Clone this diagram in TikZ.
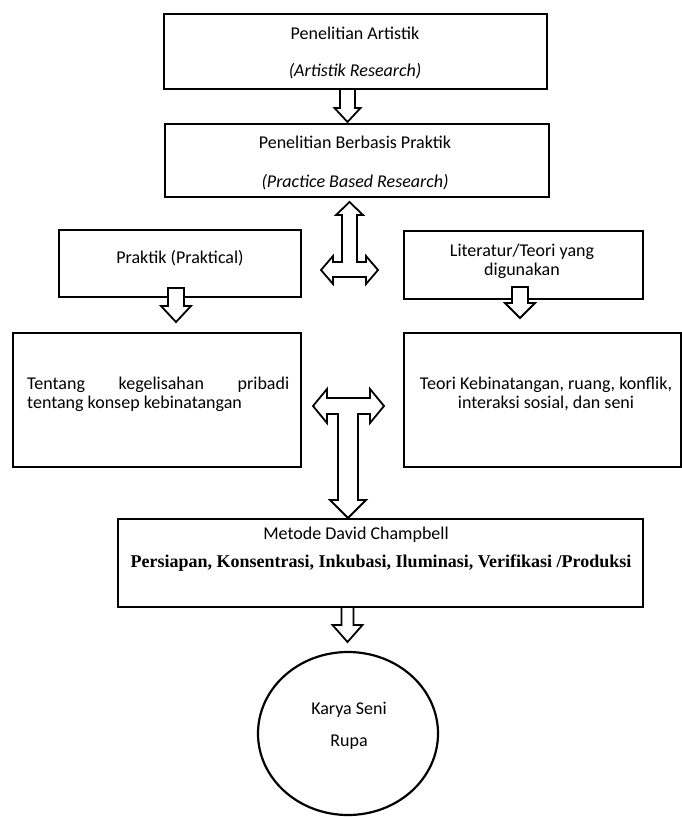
\documentclass[tikz,border=0pt]{standalone}
\usepackage{fontspec}
\setmainfont{Carlito}
\newfontfamily\serifbold{Liberation Serif}
\usetikzlibrary{shapes.geometric}
\tikzset{
  box/.style={draw, line width=2.5pt, inner sep=0pt, outer sep=0pt},
  arr/.style={draw, fill=white, line width=1.8pt, line join=miter},
  txt/.style={font=\fontsize{18}{19}\selectfont, inner sep=0pt, align=center},
}
\newcommand\blkdown[6]{% cx, top, tip, shaft half width, head half width, head length
  \draw[arr] (#1-#4,#2) -- (#1+#4,#2) -- (#1+#4,#3-#6) -- (#1+#5,#3-#6) -- (#1,#3)
     -- (#1-#5,#3-#6) -- (#1-#4,#3-#6) -- cycle;}
\begin{document}
\begin{tikzpicture}[x=1pt,y=-1pt]
\useasboundingbox (0,0) rectangle (682,817);
% boxes
\node[box, minimum width=383pt, minimum height=75pt] (b1) at (355.5,51.5) {};
\node[box, minimum width=384pt, minimum height=73pt] (b2) at (357,160.5) {};
\node[box, minimum width=242pt, minimum height=67pt] (pr) at (180,263.5) {};
\node[box, minimum width=239pt, minimum height=68pt] (li) at (523.5,265) {};
\node[box, minimum width=288pt, minimum height=134pt] (te) at (157,400) {};
\node[box, minimum width=277pt, minimum height=134pt] (tk) at (542.5,400) {};
\node[box, minimum width=525pt, minimum height=88pt] (me) at (380.5,563) {};
\node[draw, ellipse, line width=2.2pt, minimum width=180pt, minimum height=163pt, inner sep=0pt] (ka) at (348,733.5) {};
% texts
\node[txt] (b1a) at (355,33) {Penelitian Artistik};
\node[txt] (b1b) at (355,71) {\itshape (Artistik Research)};
\node[txt] (b2a) at (355,142) {Penelitian Berbasis Praktik};
\node[txt] (b2b) at (355,182) {\itshape (Practice Based Research)};
\node[txt] (prt) at (180,258) {Praktik (Praktical)};
\node[txt] (lit) at (522,261) {Literatur/Teori yang\\digunakan};
\node[txt, anchor=west, align=left] (tet) at (27,394) {\makebox[262pt][s]{Tentang kegelisahan pribadi}\\tentang konsep kebinatangan};
\node[txt] (tkt) at (546,394) {Teori Kebinatangan, ruang, konflik,\\interaksi sosial, dan seni};
\node[txt] (mea) at (356,535) {Metode David Champbell};
\node[txt, font=\serifbold\bfseries\fontsize{18}{19}\selectfont] (meb) at (381,563) {Persiapan, Konsentrasi, Inkubasi, Iluminasi, Verifikasi /Produksi};
\node[txt] (kaa) at (349,710) {Karya Seni};
\node[txt] (kab) at (349,742) {Rupa};
% block arrows
\blkdown{347.5}{89}{122}{7.5}{13}{14}
\blkdown{176}{288}{322}{8}{15}{16}
\blkdown{520}{287}{318}{8}{15}{15}
\blkdown{347.5}{607}{642}{6}{15}{17}
% upper T: up arrow + horizontal double arrow
\draw[arr] (342,215) -- (336,215) -- (349.5,202) -- (363,215) -- (357,215) -- (357,262)
  -- (366,262) -- (366,256) -- (378,270) -- (366,284) -- (366,277) -- (333,277)
  -- (333,284) -- (321,270) -- (333,256) -- (333,262) -- (342,262) -- cycle;
% lower T: horizontal double arrow + down arrow
\draw[arr] (338,414) -- (327,414) -- (327,423) -- (313,406) -- (327,389) -- (327,398)
  -- (370,398) -- (370,389) -- (384,406) -- (370,423) -- (370,414) -- (358,414)
  -- (358,500) -- (366,500) -- (348,518) -- (330,500) -- (338,500) -- cycle;
\end{tikzpicture}
\end{document}
